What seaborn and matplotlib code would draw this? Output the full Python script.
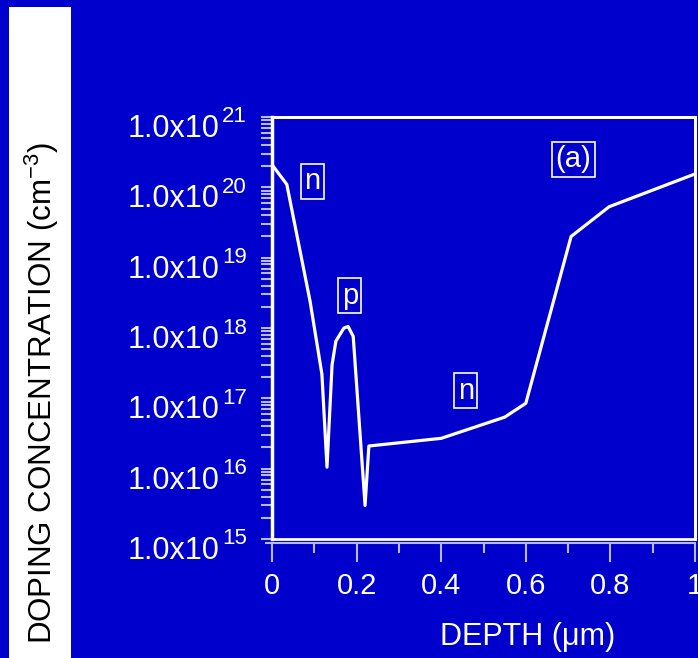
import matplotlib
matplotlib.use("Agg")
import matplotlib.pyplot as plt
import matplotlib.transforms as mtransforms
import seaborn as sns
import pandas as pd
import numpy as np
from matplotlib.patches import Rectangle
from matplotlib.ticker import FixedLocator, FixedFormatter, LogLocator, NullFormatter

# data
depth = [0.0, 0.035, 0.090, 0.118, 0.130, 0.142, 0.151, 0.170, 0.180, 0.192,
         0.220, 0.229, 0.400, 0.550, 0.600, 0.707, 0.797, 1.0]
conc = [2.1e20, 1.1e20, 2.4e18, 2.2e17, 1.05e16, 3.0e17, 6.5e17, 1.0e18, 1.05e18, 7.6e17,
        3.0e15, 2.1e16, 2.7e16, 5.4e16, 8.5e16, 2.0e19, 5.3e19, 1.55e20]
xticks = [0, 0.2, 0.4, 0.6, 0.8, 1]
xticklabels = ["0", "0.2", "0.4", "0.6", "0.8", "1"]
yticks = [1e15, 1e16, 1e17, 1e18, 1e19, 1e20, 1e21]
ytick_mantissa = "1.0x10"
ytick_exponents = ["15", "16", "17", "18", "19", "20", "21"]
annotations = [("n", 0.095, 10**20.09), ("p", 0.184, 10**18.46),
               ("n", 0.458, 10**17.11), ("(a)", 0.712, 10**20.40)]

sns.set_style("white")
plt.rcParams['font.family'] = ['Liberation Sans', 'DejaVu Sans']
plt.rcParams['mathtext.fontset'] = 'custom'
plt.rcParams['mathtext.rm'] = 'Liberation Sans'
plt.rcParams['mathtext.it'] = 'Liberation Sans:italic'
plt.rcParams['mathtext.bf'] = 'Liberation Sans:bold'

BG = '#0000CC'
TICK = '#b8b8ff'

fig = plt.figure(figsize=(6.98, 6.58), dpi=100, facecolor=BG)
# white strip for y label
fig.patches.append(Rectangle((9/698, 0), 62/698, 651/658, transform=fig.transFigure,
                             facecolor='white', edgecolor='none', zorder=0))

ax = fig.add_axes([272/698, 1-539/658, 423/698, 422/658])
ax.set_facecolor(BG)

df = pd.DataFrame({"depth": depth, "conc": conc})
sns.lineplot(data=df, x="depth", y="conc", ax=ax, color='white', linewidth=2.3,
             estimator=None, sort=False)

ax.set_yscale('log')
ax.set_xlim(0, 1)
ax.set_ylim(1e15, 1e21)

ax.yaxis.set_major_locator(FixedLocator(yticks))
ax.yaxis.set_major_formatter(NullFormatter())
ax.yaxis.set_minor_locator(LogLocator(base=10, subs=np.arange(2, 10), numticks=20))
ax.yaxis.set_minor_formatter(NullFormatter())
ax.xaxis.set_major_locator(FixedLocator(xticks))
ax.xaxis.set_major_formatter(FixedFormatter(xticklabels))
ax.xaxis.set_minor_locator(FixedLocator([0.1, 0.3, 0.5, 0.7, 0.9]))

ax.tick_params(axis='both', which='both', bottom=True, left=True, top=False, right=False)
ax.tick_params(axis='both', which='major', direction='out', colors=TICK,
               labelcolor='white', labelsize=21, length=8, width=1.5)
ax.tick_params(axis='x', which='major', length=14, pad=7)
ax.tick_params(axis='both', which='minor', direction='out', colors=TICK, length=8, width=1.5)
ax.tick_params(axis='x', which='minor', length=7)
ax.set_xlabel("")
ax.set_ylabel("")

# y tick labels: mantissa + raised exponent
trans = mtransforms.blended_transform_factory(fig.transFigure, ax.transData)
main_tr = trans + mtransforms.ScaledTranslation(0, -0.12, fig.dpi_scale_trans)
sup_tr = trans + mtransforms.ScaledTranslation(0, 0.0, fig.dpi_scale_trans)
for yv, ex in zip(yticks, ytick_exponents):
    ax.text(220/698, yv, ytick_mantissa, transform=main_tr, color='white', fontsize=22,
            ha='right', va='center', clip_on=False)
    ax.text(222/698, yv, ex, transform=sup_tr, color='white', fontsize=16,
            ha='left', va='center', clip_on=False)

for s in ['top', 'right']:
    ax.spines[s].set_color('white')
    ax.spines[s].set_linewidth(2)
ax.spines['left'].set_color('white')
ax.spines['left'].set_linewidth(2.5)
ax.spines['bottom'].set_color(TICK)
ax.spines['bottom'].set_linewidth(1.5)
ax.spines['bottom'].set_position(('outward', 3))
ax.spines['bottom'].set_bounds(-0.015, 1)
ax.add_patch(Rectangle((0, 0), 1, 1, transform=ax.transAxes, facecolor='none',
                       edgecolor='white', linewidth=2, clip_on=False, zorder=5))

for txt, x, y in annotations:
    ax.text(x, y, txt, color='white', fontsize=21, ha='center', va='center',
            bbox=dict(boxstyle='square,pad=0.12', facecolor='none', edgecolor='white', linewidth=1.2))

fig.text(528/698, 1-637/658, "DEPTH (μm)", color='white', fontsize=22, ha='center', va='center')
fig.text(42/698, 1-393/658, r"DOPING CONCENTRATION (cm$^{\mathrm{-3}}$)", color='black', fontsize=22.5,
         rotation=90, ha='center', va='center')

fig.savefig("out.png", dpi=100, facecolor=BG)
